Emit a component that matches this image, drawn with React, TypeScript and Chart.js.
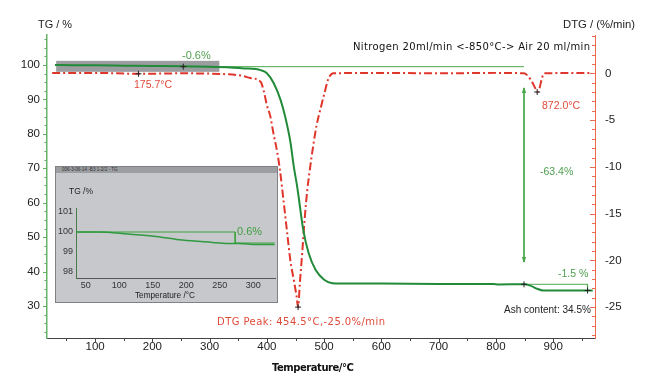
import React, { useEffect, useRef } from 'react';
import { Chart, registerables } from 'chart.js';

Chart.register(...registerables);

// ---------- main chart data ----------
const TG_TEMPS = [30, 60, 100, 150, 200, 254, 300, 336, 360, 380, 389, 400, 412, 424, 432.5, 441, 447, 453, 456, 463.5, 473, 485, 500, 514, 530, 600, 700, 795, 805, 849, 860, 872, 882, 969];
const TG_VALUES = [100.0, 99.95, 99.9, 99.8, 99.7, 99.6, 99.45, 99.25, 99.0, 98.8, 98.5, 97.6, 94.7, 89.8, 84.6, 77.7, 70.5, 64.5, 61.0, 52.1, 45.3, 40.5, 37.6, 36.6, 36.5, 36.5, 36.4, 36.4, 36.25, 36.3, 35.9, 35.0, 34.5, 34.5];

const DTG_TEMPS = [25, 100, 175.7, 250, 330, 356, 371, 389, 395, 400, 406, 412, 418, 422.5, 429.6, 435.5, 441, 447, 452, 454.5, 457.5, 461.7, 465.8, 470.5, 475, 481, 487, 494, 501, 506.6, 511, 516, 600, 700, 800, 849, 861, 868, 872, 876, 880, 884, 966];
const DTG_VALUES = [0.05, 0.05, -0.05, 0.0, -0.1, -0.25, -0.5, -0.9, -2.0, -3.4, -4.6, -6.6, -8.4, -10.2, -13.9, -17.1, -20.0, -22.1, -23.9, -25.0, -22.5, -19.2, -15.7, -12.5, -10.3, -7.7, -5.5, -3.7, -2.0, -0.7, -0.2, 0.0, 0.05, 0.0, 0.05, 0.0, -0.7, -1.5, -2.0, -1.6, -0.6, 0.0, 0.05];

// step-analysis annotations (TG axis)
const STEP1_T = [254, 849];
const STEP1_TG = [99.5, 99.5];
const STEP3_T = [849, 960, 960];
const STEP3_TG = [36.3, 36.3, 34.5];
const ARROW_T = [849, 849];
const ARROW_TG = [93.3, 42.8];
const TG_MARK_T = [254, 849, 960];
const TG_MARK_V = [99.5, 36.3, 34.5];
const DTG_MARK_T = [175.7, 454.5, 872.0];
const DTG_MARK_V = [-0.05, -25.0, -2.0];
const BOX_T = [32, 317];
const BOX_TG = [101.2, 98.0];

const X_TICKS = [100, 200, 300, 400, 500, 600, 700, 800, 900];
const TG_TICKS = [30, 40, 50, 60, 70, 80, 90, 100];
const DTG_TICKS = [-25, -20, -15, -10, -5, 0];
const X_RANGE = [16, 973];
const TG_RANGE = [20.7, 108.7];
const DTG_RANGE = [-28.3, 4.1];

// ---------- inset data ----------
const INSET_T = [35.5, 70, 113, 155, 194, 239, 260, 280, 305, 332];
const INSET_TG = [100.0, 100.0, 99.9, 99.78, 99.6, 99.48, 99.43, 99.42, 99.37, 99.37];
const INSET_REF_T = [35.5, 273, 273, 332];
const INSET_REF_TG = [100.0, 100.0, 99.45, 99.45];
const INSET_X_TICKS = [50, 100, 150, 200, 250, 300];
const INSET_Y_TICKS = [98, 99, 100, 101];
const INSET_X_RANGE = [35.5, 332.4];
const INSET_Y_RANGE = [97.7, 101.2];

const GREEN = '#228b3a';
const GREEN_THIN = '#4aa84a';
const GREEN_TEXT = '#4f9f4f';
const RED = '#e0352b';
const RED_TEXT = '#e04a3a';

const LS = '"Liberation Sans", Arial, sans-serif';
const DV = '"DejaVu Sans", Verdana, sans-serif';

const pts = (xs: number[], ys: number[]) => xs.map((x, i) => ({ x, y: ys[i] }));

type FitMode = 'spacing' | 'scale' | 'natural';

function drawFitted(ctx: CanvasRenderingContext2D, text: string, left: number, cy: number, width: number, weight: string, size: number, family: string, color: string, mode: FitMode) {
  ctx.save();
  const a = ctx as any;
  const hasLS = 'letterSpacing' in a;
  if (hasLS) a.letterSpacing = '0px';
  ctx.font = `${weight} ${size}px ${family}`;
  ctx.fillStyle = color;
  ctx.textAlign = 'left';
  ctx.textBaseline = 'middle';
  const w0 = ctx.measureText(text).width;
  if (mode === 'natural') {
    ctx.fillText(text, left, cy);
  } else if (mode === 'scale') {
    const s = Math.max(6, Math.min(16, size * width / w0));
    ctx.font = `${weight} ${s.toFixed(2)}px ${family}`;
    ctx.fillText(text, left, cy);
  } else if (hasLS && text.length > 1) {
    const ls = (width - w0) / (text.length - 1);
    a.letterSpacing = ls.toFixed(2) + 'px';
    ctx.fillText(text, left, cy);
    a.letterSpacing = '0px';
  } else {
    ctx.fillText(text, left, cy, width);
  }
  ctx.restore();
}

const mainOverlay = {
  id: 'mainOverlay',
  beforeDatasetsDraw(chart: any) {
    const { ctx, scales } = chart;
    const x = scales.x, y = scales.y;
    const l = x.getPixelForValue(BOX_T[0]);
    const r = x.getPixelForValue(BOX_T[1]);
    const t = y.getPixelForValue(BOX_TG[0]);
    const b = y.getPixelForValue(BOX_TG[1]);
    ctx.save();
    ctx.fillStyle = '#9b9da1';
    ctx.fillRect(l, t, r - l, b - t);
    ctx.restore();
  },
  afterDraw(chart: any) {
    const { ctx, scales, chartArea } = chart;
    const x = scales.x, y = scales.y, y2 = scales.y2;
    ctx.save();
    ctx.strokeStyle = '#444';
    ctx.lineWidth = 1;
    for (let v = 50; v <= 950; v += 50) {
      const px = Math.round(x.getPixelForValue(v)) + 0.5;
      ctx.beginPath();
      ctx.moveTo(px, chartArea.bottom);
      ctx.lineTo(px, chartArea.bottom + (v % 100 === 0 ? 4 : 3));
      ctx.stroke();
    }
    ctx.strokeStyle = '#5fae5f';
    for (let v = 22.5; v <= 107.5; v += 2.5) {
      const py = Math.round(y.getPixelForValue(v)) + 0.5;
      const major = v % 10 === 0;
      ctx.beginPath();
      ctx.moveTo(chartArea.left - (major ? 4 : 2.5), py);
      ctx.lineTo(chartArea.left, py);
      ctx.stroke();
    }
    ctx.strokeStyle = '#ea6a4a';
    for (let v = -28; v <= 4; v += 1) {
      const py = Math.round(y2.getPixelForValue(v)) + 0.5;
      const major = v % 5 === 0;
      ctx.beginPath();
      ctx.moveTo(chartArea.right - (major ? 5 : 3), py);
      ctx.lineTo(chartArea.right, py);
      ctx.stroke();
    }
    ctx.fillStyle = GREEN_THIN;
    const ax = x.getPixelForValue(ARROW_T[0]);
    const aTop = y.getPixelForValue(ARROW_TG[0]);
    const aBot = y.getPixelForValue(ARROW_TG[1]);
    ctx.beginPath();
    ctx.moveTo(ax, aTop - 1); ctx.lineTo(ax - 2.2, aTop + 5); ctx.lineTo(ax + 2.2, aTop + 5); ctx.closePath(); ctx.fill();
    ctx.beginPath();
    ctx.moveTo(ax, aBot + 1); ctx.lineTo(ax - 2.2, aBot - 5); ctx.lineTo(ax + 2.2, aBot - 5); ctx.closePath(); ctx.fill();
    ctx.restore();

    drawFitted(ctx, 'TG / %', 38, 25, 34, '', 11.5, LS, '#222', 'scale');
    drawFitted(ctx, 'DTG / (%/min)', 563, 25, 72, '', 11.5, LS, '#222', 'scale');
    drawFitted(ctx, 'Nitrogen 20ml/min <-850°C-> Air 20 ml/min', 353, 47, 237, '', 10, DV, '#111', 'spacing');
    drawFitted(ctx, '-0.6%', 182, 56, 0, '', 11, LS, GREEN_TEXT, 'natural');
    drawFitted(ctx, '175.7°C', 134, 85, 0, '', 10.5, LS, RED_TEXT, 'natural');
    drawFitted(ctx, '872.0°C', 542, 106, 0, '', 10.5, LS, RED_TEXT, 'natural');
    drawFitted(ctx, '-63.4%', 540, 172, 0, '', 10.5, LS, GREEN_TEXT, 'natural');
    drawFitted(ctx, '-1.5 %', 558, 274.5, 0, '', 10.5, LS, GREEN_TEXT, 'natural');
    drawFitted(ctx, 'Ash content: 34.5%', 504, 310, 87, '', 10.5, LS, '#222', 'scale');
    drawFitted(ctx, 'DTG Peak: 454.5°C,-25.0%/min', 217, 322.5, 168, '', 10, DV, RED_TEXT, 'spacing');
    drawFitted(ctx, 'Temperature/°C', 272, 368.5, 82, 'bold', 10, DV, '#111', 'spacing');
  },
};

const insetOverlay = {
  id: 'insetOverlay',
  afterDraw(chart: any) {
    const { ctx } = chart;
    drawFitted(ctx, 'TG /%', 13, 25, 24, '', 9, LS, '#222', 'scale');
    drawFitted(ctx, 'Temperature /°C', 79, 129, 60, '', 8.5, LS, '#222', 'scale');
    drawFitted(ctx, '0.6%', 181, 64.5, 25, '', 11, LS, '#3f9f3f', 'scale');
  },
};

export default function App() {
  const mainRef = useRef<HTMLCanvasElement>(null);
  const insetRef = useRef<HTMLCanvasElement>(null);

  useEffect(() => {
    const tickFont = { family: LS, size: 11.5 };
    const main = new Chart(mainRef.current as HTMLCanvasElement, {
      type: 'line',
      data: {
        datasets: [
          { type: 'scatter', data: pts(TG_MARK_T, TG_MARK_V), yAxisID: 'y', pointStyle: 'cross', pointRadius: 3, borderColor: '#222', backgroundColor: '#222', borderWidth: 1 } as any,
          { type: 'scatter', data: pts(DTG_MARK_T, DTG_MARK_V), yAxisID: 'y2', pointStyle: 'cross', pointRadius: 3, borderColor: '#222', backgroundColor: '#222', borderWidth: 1 } as any,
          { data: pts(TG_TEMPS, TG_VALUES), yAxisID: 'y', borderColor: GREEN, borderWidth: 2, pointRadius: 0, cubicInterpolationMode: 'monotone', fill: false },
          { data: pts(DTG_TEMPS, DTG_VALUES), yAxisID: 'y2', borderColor: RED, borderWidth: 2, borderDash: [8, 3, 2, 3], pointRadius: 0, cubicInterpolationMode: 'monotone', fill: false },
          { data: pts(STEP1_T, STEP1_TG), yAxisID: 'y', borderColor: GREEN_THIN, borderWidth: 1, pointRadius: 0 },
          { data: pts(STEP3_T, STEP3_TG), yAxisID: 'y', borderColor: GREEN_THIN, borderWidth: 1, pointRadius: 0 },
          { data: pts(ARROW_T, ARROW_TG), yAxisID: 'y', borderColor: GREEN_THIN, borderWidth: 1, pointRadius: 0 },
        ],
      },
      options: {
        responsive: false,
        animation: false,
        devicePixelRatio: 1,
        layout: { padding: { top: 35, left: 0, right: 0, bottom: 0 } },
        plugins: { legend: { display: false }, tooltip: { enabled: false } },
        scales: {
          x: {
            type: 'linear', position: 'bottom', min: X_RANGE[0], max: X_RANGE[1],
            afterBuildTicks: (s: any) => { s.ticks = X_TICKS.map((v) => ({ value: v })); },
            afterFit: (s: any) => { s.height = 44; },
            ticks: { autoSkip: false, maxRotation: 0, padding: 2, color: '#222', font: tickFont, callback: (v: any) => String(v) },
            grid: { display: true, drawOnChartArea: false, drawTicks: false },
            border: { display: true, color: '#444', width: 1 },
          },
          y: {
            type: 'linear', position: 'left', min: TG_RANGE[0], max: TG_RANGE[1],
            afterBuildTicks: (s: any) => { s.ticks = TG_TICKS.map((v) => ({ value: v })); },
            afterFit: (s: any) => { s.width = 47; },
            ticks: { autoSkip: false, padding: 7, color: '#222', font: tickFont, callback: (v: any) => String(v) },
            grid: { display: true, drawOnChartArea: false, drawTicks: false },
            border: { display: true, color: '#66b266', width: 1.5 },
          },
          y2: {
            type: 'linear', position: 'right', min: DTG_RANGE[0], max: DTG_RANGE[1],
            afterBuildTicks: (s: any) => { s.ticks = DTG_TICKS.map((v) => ({ value: v })); },
            afterFit: (s: any) => { s.width = 57; },
            ticks: { autoSkip: false, padding: 10, color: '#222', font: tickFont, callback: (v: any) => String(v) },
            grid: { display: true, drawOnChartArea: false, drawTicks: false },
            border: { display: true, color: '#ea6a4a', width: 1 },
          },
        },
      } as any,
      plugins: [mainOverlay],
    });

    const insetFont = { family: LS, size: 9 };
    const inset = new Chart(insetRef.current as HTMLCanvasElement, {
      type: 'line',
      data: {
        datasets: [
          { data: pts(INSET_T, INSET_TG), borderColor: '#2f9a3f', borderWidth: 1.5, pointRadius: 0, cubicInterpolationMode: 'monotone' },
          { data: pts(INSET_REF_T, INSET_REF_TG), borderColor: '#3aa53a', borderWidth: 1, pointRadius: 0 },
        ],
      },
      options: {
        responsive: false,
        animation: false,
        devicePixelRatio: 1,
        layout: { padding: { top: 41, left: 0, right: 2, bottom: 0 } },
        plugins: { legend: { display: false }, tooltip: { enabled: false } },
        scales: {
          x: {
            type: 'linear', min: INSET_X_RANGE[0], max: INSET_X_RANGE[1],
            afterBuildTicks: (s: any) => { s.ticks = INSET_X_TICKS.map((v) => ({ value: v })); },
            afterFit: (s: any) => { s.height = 24; },
            ticks: { autoSkip: false, maxRotation: 0, padding: 2, color: '#333', font: insetFont, callback: (v: any) => String(v) },
            grid: { display: true, drawOnChartArea: false, drawTicks: false },
            border: { display: true, color: '#555', width: 1 },
          },
          y: {
            type: 'linear', min: INSET_Y_RANGE[0], max: INSET_Y_RANGE[1],
            afterBuildTicks: (s: any) => { s.ticks = INSET_Y_TICKS.map((v) => ({ value: v })); },
            afterFit: (s: any) => { s.width = 20; },
            ticks: { autoSkip: false, padding: 3, color: '#333', font: insetFont, callback: (v: any) => String(v) },
            grid: { display: true, drawOnChartArea: false, drawTicks: false },
            border: { display: true, color: '#4a7a4a', width: 1 },
          },
        },
      } as any,
      plugins: [insetOverlay],
    });

    return () => { main.destroy(); inset.destroy(); };
  }, []);

  return (
    <div style={{ position: 'absolute', left: 0, top: 0, width: 652, height: 382, background: '#fff', overflow: 'hidden' }}>
      <canvas ref={mainRef} width={652} height={382} style={{ position: 'absolute', left: 0, top: 0 }} />
      <div style={{ position: 'absolute', left: 55, top: 166, width: 221, height: 135, border: '1px solid #7f8185', background: '#c7c8cc' }}>
        <div style={{ height: 6, background: '#9c9ea2', fontFamily: LS, fontSize: 4.6, lineHeight: '6px', paddingLeft: 6, color: '#333', whiteSpace: 'nowrap', overflow: 'hidden' }}>006-3-06-14 -B3 1-2/2 - TG</div>
        <canvas ref={insetRef} width={221} height={135} style={{ position: 'absolute', left: 0, top: 0 }} />
      </div>
    </div>
  );
}
